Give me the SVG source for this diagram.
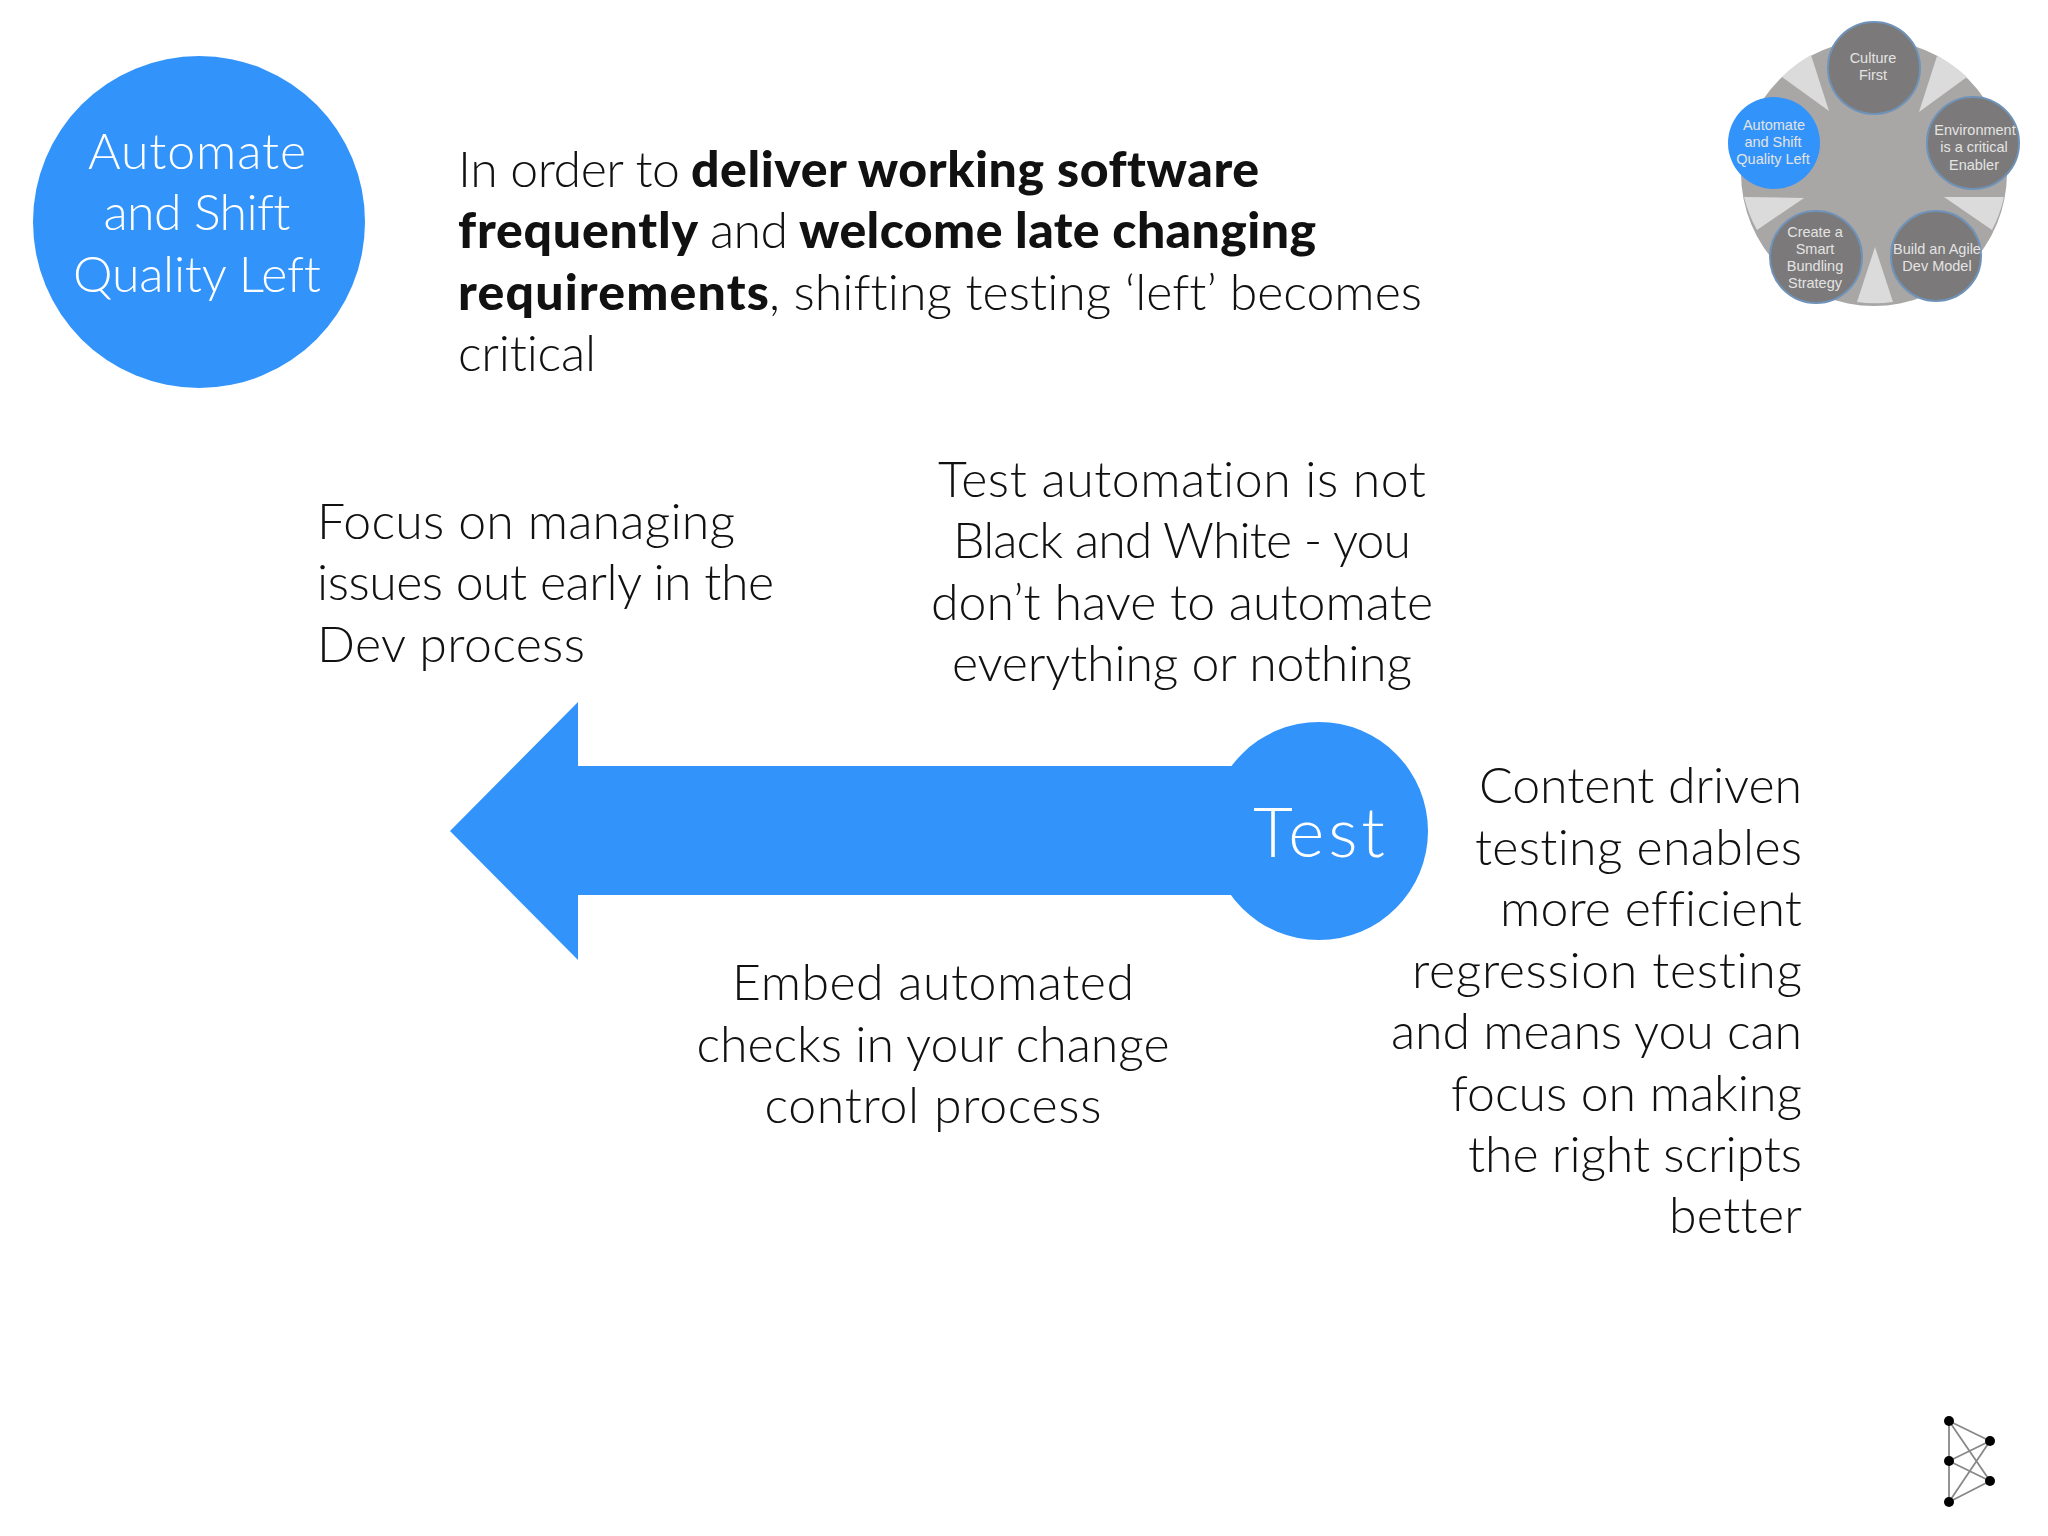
<svg xmlns="http://www.w3.org/2000/svg" width="2048" height="1536" viewBox="0 0 2048 1536">
<style>
text{font-family:"Lato","Open Sans","Liberation Sans",sans-serif;font-weight:300;font-size:50px;fill:#111;font-variant-ligatures:none}
.b{font-weight:900}
.w{fill:#fff;text-anchor:middle}
.m{text-anchor:middle}
.e{text-anchor:end}
.s{font-family:"Liberation Sans",Arial,sans-serif;font-weight:400;font-size:14.5px;fill:#e4e4e4;text-anchor:middle}
.c{fill:#7b7979;stroke:#6f93b8;stroke-width:2}
.wedge{fill:#dcdbdb}
.l{stroke:#888;stroke-width:1.8}
.d{fill:#000}
</style>
<rect width="2048" height="1536" fill="#fff"/>
<g id="title-node">
<circle cx="199" cy="222" r="166" fill="#3293fb"/>
<text class="w" x="197" y="169" textLength="218">Automate</text>
<text class="w" x="197" y="230" textLength="187">and Shift</text>
<text class="w" x="197" y="292" textLength="248">Quality Left</text>
</g>
<g id="intro">
<text x="458" y="187" textLength="222">In order to</text>
<text class="b" x="691" y="187" textLength="568">deliver working software</text>
<text class="b" x="458" y="248" textLength="240">frequently</text>
<text x="710" y="248" textLength="78">and</text>
<text class="b" x="799" y="248" textLength="517">welcome late changing</text>
<text class="b" x="458" y="310" textLength="311">requirements</text>
<text x="769" y="310" textLength="653">, shifting testing ‘left’ becomes</text>
<text x="458" y="371" textLength="138">critical</text>
</g>
<g id="note-focus">
<text x="317" y="539" textLength="418">Focus on managing</text>
<text x="317" y="600" textLength="457">issues out early in the</text>
<text x="317" y="662" textLength="268">Dev process</text>
</g>
<g id="note-black-white">
<text class="m" x="1182" y="497" textLength="488">Test automation is not</text>
<text class="m" x="1182" y="558" textLength="458">Black and White - you</text>
<text class="m" x="1182" y="620" textLength="502">don’t have to automate</text>
<text class="m" x="1182" y="681" textLength="460">everything or nothing</text>
</g>
<g id="connectors">
<polygon points="450,831 578,702 578,766 1260,766 1260,895 578,895 578,960" fill="#3293fb"/>
</g>
<g id="test-node">
<circle cx="1319" cy="831" r="109" fill="#3293fb"/>
<text x="1319" y="857" text-anchor="middle" textLength="132" style="font-size:69px;fill:#fff">Test</text>
</g>
<g id="note-embed">
<text class="m" x="933" y="1000" textLength="402">Embed automated</text>
<text class="m" x="933" y="1062" textLength="473">checks in your change</text>
<text class="m" x="933" y="1123" textLength="337">control process</text>
</g>
<g id="note-content">
<text class="e" x="1802" y="803" textLength="323">Content driven</text>
<text class="e" x="1802" y="865" textLength="327">testing enables</text>
<text class="e" x="1802" y="926" textLength="302">more efficient</text>
<text class="e" x="1802" y="988" textLength="390">regression testing</text>
<text class="e" x="1802" y="1049" textLength="411">and means you can</text>
<text class="e" x="1802" y="1111" textLength="351">focus on making</text>
<text class="e" x="1802" y="1172" textLength="334">the right scripts</text>
<text class="e" x="1802" y="1233" textLength="133">better</text>
</g>
<g id="thumbnail">
<circle cx="1874" cy="173" r="133" fill="#a9a6a6"/>
<path class="wedge" d="M1919,112 L1937,56 A133,133 0 0 1 1967,77 Z"/>
<path class="wedge" d="M1944,197 L2004,197 A133,133 0 0 1 1992,230 Z"/>
<path class="wedge" d="M1875,247 L1893,302 A133,133 0 0 1 1857,302 Z"/>
<path class="wedge" d="M1804,198 L1757,230 A133,133 0 0 1 1744,197 Z"/>
<path class="wedge" d="M1829,111 L1782,77 A133,133 0 0 1 1811,55 Z"/>
<g id="culture"><circle class="c" cx="1874" cy="68" r="46"/><text class="s" x="1873" y="63">Culture</text><text class="s" x="1873" y="80">First</text></g>
<g id="environment"><circle class="c" cx="1973" cy="143" r="46"/><text class="s" x="1975" y="135">Environment</text><text class="s" x="1974" y="152">is a critical</text><text class="s" x="1974" y="170">Enabler</text></g>
<g id="agile"><circle class="c" cx="1936" cy="256" r="45"/><text class="s" x="1937" y="254">Build an Agile</text><text class="s" x="1937" y="271">Dev Model</text></g>
<g id="bundling"><circle class="c" cx="1816" cy="257" r="46"/><text class="s" x="1815" y="237">Create a</text><text class="s" x="1815" y="254">Smart</text><text class="s" x="1815" y="271">Bundling</text><text class="s" x="1815" y="288">Strategy</text></g>
<g id="automate"><circle cx="1774" cy="143" r="46" fill="#3293fb"/><text class="s" x="1774" y="130">Automate</text><text class="s" x="1773" y="147">and Shift</text><text class="s" x="1773" y="164">Quality Left</text></g>
</g>
<g id="logo">
<path class="l" fill="none" d="M1949,1421V1502M1949,1421L1990,1441M1949,1421L1990,1481M1949,1461L1990,1441M1949,1461L1990,1481M1949,1502L1990,1441M1949,1502L1990,1481"/>
<circle class="d" cx="1949" cy="1421" r="5"/><circle class="d" cx="1949" cy="1461" r="5"/><circle class="d" cx="1949" cy="1502" r="5"/><circle class="d" cx="1990" cy="1441" r="5"/><circle class="d" cx="1990" cy="1481" r="5"/>
</g>
</svg>
